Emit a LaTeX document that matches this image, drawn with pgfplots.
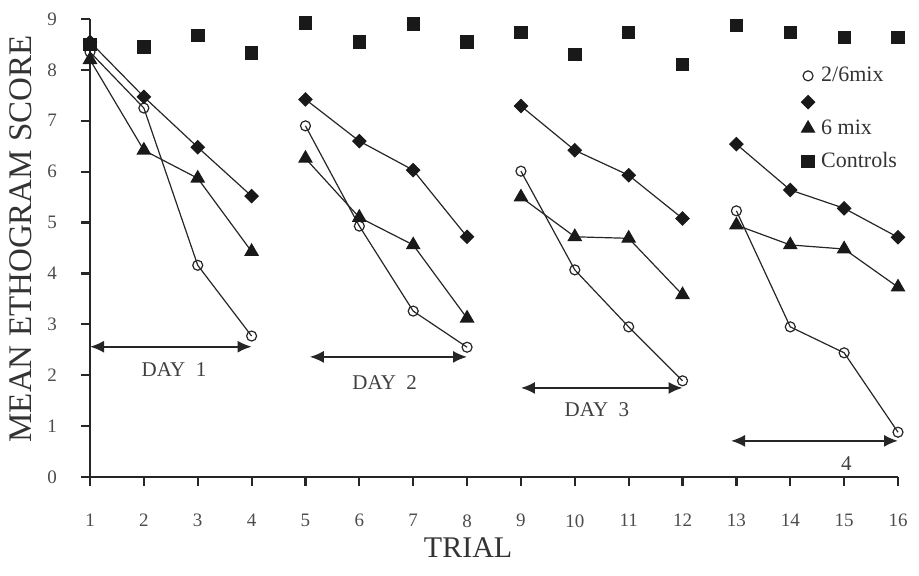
\documentclass[border=0pt]{standalone}
\usepackage{fontspec}
\setmainfont{Liberation Serif}
\usepackage{pgfplots}
\usepackage{pgfplotstable}
\pgfplotsset{compat=1.18}
\usetikzlibrary{arrows.meta}

\pgfplotstableread{
x c d t s
1 8.35 8.55 8.20 8.50
2 7.25 7.47 6.42 8.45
3 4.16 6.48 5.87 8.68
4 2.77 5.52 4.43 8.33
4.5 nan nan nan nan
5 6.90 7.42 6.26 8.92
6 4.93 6.60 5.10 8.55
7 3.26 6.03 4.56 8.90
8 2.55 4.72 3.12 8.55
8.5 nan nan nan nan
9 6.01 7.29 5.50 8.74
10 4.07 6.42 4.72 8.31
11 2.95 5.93 4.69 8.74
12 1.89 5.08 3.58 8.11
12.5 nan nan nan nan
13 5.23 6.54 4.95 8.88
14 2.95 5.64 4.56 8.74
15 2.44 5.28 4.48 8.64
16 0.88 4.71 3.73 8.64
}\data

\begin{document}
\begin{tikzpicture}
\begin{axis}[
  scale only axis, width=404pt, height=229pt,
  xmin=1, xmax=16, ymin=0, ymax=9,
  xtick={1,...,16}, ytick={0,...,9},
  axis x line*=bottom, axis y line*=left,
  axis line style={line width=1.3pt, black!85},
  tick style={line width=1.1pt, black!85},
  tick align=outside, major tick length=4.5pt,
  clip=false,
  unbounded coords=jump,
  /pgf/number format/assume math mode=true,
  ticklabel style={font=\fontsize{9.5}{11}\selectfont, text=black!70},
  xticklabel style={anchor=north, inner xsep=1pt, inner ysep=14pt},
  yticklabel style={anchor=east},
  yticklabel={\pgfmathprintnumber{\tick}\hspace*{8.5pt}},
  every axis y label/.style={at={(axis description cs:0,0.52)}, xshift=-34.5pt, rotate=90, anchor=center, font=\fontsize{16.5}{19}\selectfont, text=black!80},
  every axis x label/.style={at={(axis description cs:0.468,0)}, yshift=-35.5pt, anchor=center, font=\fontsize{15}{18}\selectfont, text=black!80},
  ylabel={MEAN ETHOGRAM SCORE},
  xlabel={TRIAL},
  legend style={draw=none, fill=none, at={(axis cs:14.0,8.22)}, anchor=north west, font=\fontsize{11}{13}\selectfont, row sep=3.5pt, text=black!80},
  legend cell align=left,
  legend image code/.code={\draw[#1] plot[only marks] coordinates {(0.2cm,0cm)}; \path[draw=none] (0cm,0cm) (0.36cm,0cm);},
]
\addplot[black!85, line width=0.6pt, mark=o, mark size=2.5pt, mark options={fill=white, line width=0.6pt}] table[x=x, y=c] {\data};
\addlegendentry{2/6mix}
\addplot[black!85, line width=0.6pt, mark=square*, mark size=2.3pt, mark options={rotate=45, fill=black!90, draw=black!90}] table[x=x, y=d] {\data};
\addlegendentry{\mbox{}}
\addplot[black!85, line width=0.6pt, mark=triangle*, mark size=3.7pt, mark options={fill=black!90, draw=black!90}] table[x=x, y=t] {\data};
\addlegendentry{6 mix}
\addplot[only marks, mark=square*, mark size=3.1pt, mark options={fill=black!90, draw=black!90}] table[x=x, y=s] {\data};
\addlegendentry{Controls}

\draw[{Latex[length=7pt,width=6pt]}-{Latex[length=7pt,width=6pt]}, line width=0.9pt, black!85] (axis cs:1,2.56) -- (axis cs:4,2.56);
\draw[{Latex[length=7pt,width=6pt]}-{Latex[length=7pt,width=6pt]}, line width=0.9pt, black!85] (axis cs:5.08,2.36) -- (axis cs:8,2.36);
\draw[{Latex[length=7pt,width=6pt]}-{Latex[length=7pt,width=6pt]}, line width=0.9pt, black!85] (axis cs:9,1.75) -- (axis cs:12,1.75);
\draw[{Latex[length=7pt,width=6pt]}-{Latex[length=7pt,width=6pt]}, line width=0.9pt, black!85] (axis cs:12.9,0.71) -- (axis cs:16,0.71);
\node[font=\fontsize{10.5}{12}\selectfont, text=black!75] at (axis cs:2.56,2.12) {DAY\ \ 1};
\node[font=\fontsize{10.5}{12}\selectfont, text=black!75] at (axis cs:6.47,1.85) {DAY\ \ 2};
\node[font=\fontsize{10.5}{12}\selectfont, text=black!75] at (axis cs:10.41,1.32) {DAY\ \ 3};
\node[font=\fontsize{10.5}{12}\selectfont, text=black!75] at (axis cs:15.04,0.27) {4};
\end{axis}
\path ([shift={(-45pt,-49.5pt)}]current axis.south west) rectangle ([shift={(10.5pt,9.5pt)}]current axis.north east);
\end{tikzpicture}
\end{document}
